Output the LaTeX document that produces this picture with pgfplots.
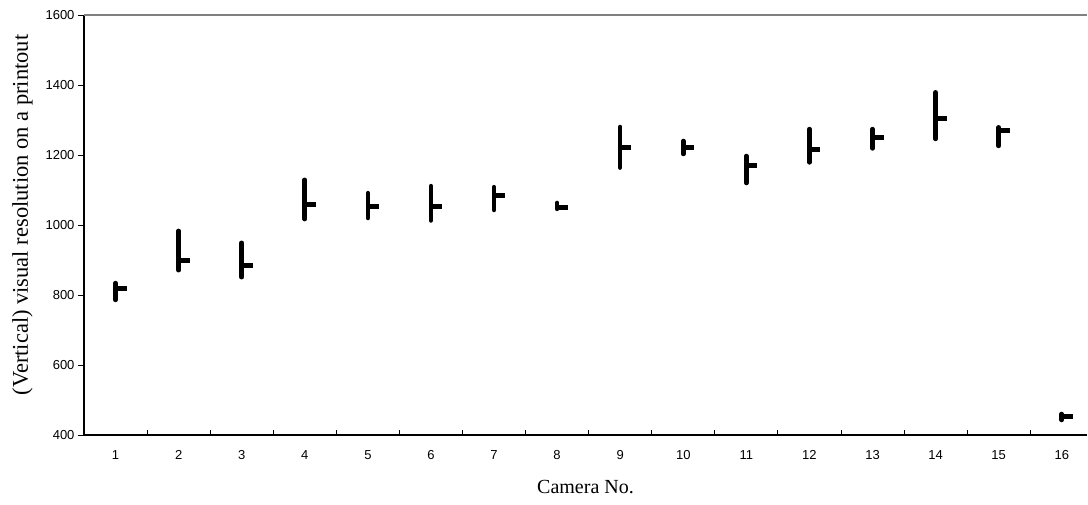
\documentclass[border=0pt]{standalone}
\usepackage{fontspec}
\setmainfont{Liberation Serif}
\newfontfamily\tickfont{Liberation Sans}
\usepackage{pgfplots}
\usepackage{pgfplotstable}
\pgfplotsset{compat=1.18}
\pgfdeclareplotmark{rtick}{%
  \pgfpathmoveto{\pgfpointorigin}%
  \pgfpathlineto{\pgfpoint{11pt}{0pt}}%
  \pgfusepathqstroke}
\pgfplotstableread{
cam low high close
1 786 834 818
2 871 983 898
3 851 949 884
4 1017 1129 1058
5 1020 1091 1054
6 1013 1111 1054
7 1043 1108 1083
8 1046 1063 1050
9 1164 1280 1220
10 1203 1240 1221
11 1120 1197 1171
12 1179 1274 1215
13 1219 1274 1249
14 1246 1379 1305
15 1226 1279 1269
16 443 460 452
}\datatable
\begin{document}
\begin{tikzpicture}
\begin{axis}[
  scale only axis,
  width=1003pt, height=420pt,
  xmin=0.5, xmax=16.4,
  ymin=400, ymax=1600,
  axis x line*=bottom,
  axis y line*=left,
  axis line style={-, line width=1.2pt, black},
  xtick={1,...,16},
  minor xtick={1.5,2.5,...,15.5},
  ytick={400,600,...,1600},
  tick align=outside,
  major tick length=6pt,
  minor tick length=5pt,
  major x tick style={draw=none},
  minor x tick style={draw=black, line width=0.8pt, yshift=5pt},
  y tick style={black, line width=0.8pt},
  /pgf/number format/assume math mode=true,
  /pgf/number format/1000 sep={},
  tick label style={font=\tickfont\fontsize{13}{13}\selectfont},
  xticklabel style={yshift=-6pt},
  xlabel={Camera No.},
  ylabel={(Vertical) visual resolution on a printout},
  xlabel style={font=\fontsize{20}{20}\selectfont, at={([yshift=-58pt]rel axis cs:0.5,0)}, anchor=base},
  ylabel style={font=\fontsize{22.5}{22.5}\selectfont, at={([xshift=-56pt]rel axis cs:0,0.524)}, anchor=base, rotate=0},
  clip=false,
]
\draw[line width=2pt, gray] (rel axis cs:0,1) -- (rel axis cs:1,1);
\addplot[
  only marks, black,
  mark=rtick,
  mark options={line width=5pt, line cap=butt},
  error bars/.cd,
    y dir=both, y explicit,
    error mark=none,
    error bar style={line width=4.6pt, line cap=round, black},
] table[
  x=cam, y=close,
  y error plus expr=\thisrow{high}-\thisrow{close},
  y error minus expr=\thisrow{close}-\thisrow{low},
] {\datatable};
\end{axis}
\pgfresetboundingbox
\path[use as bounding box] (-84pt,-69pt) rectangle (1004pt,435pt);
\end{tikzpicture}
\end{document}
